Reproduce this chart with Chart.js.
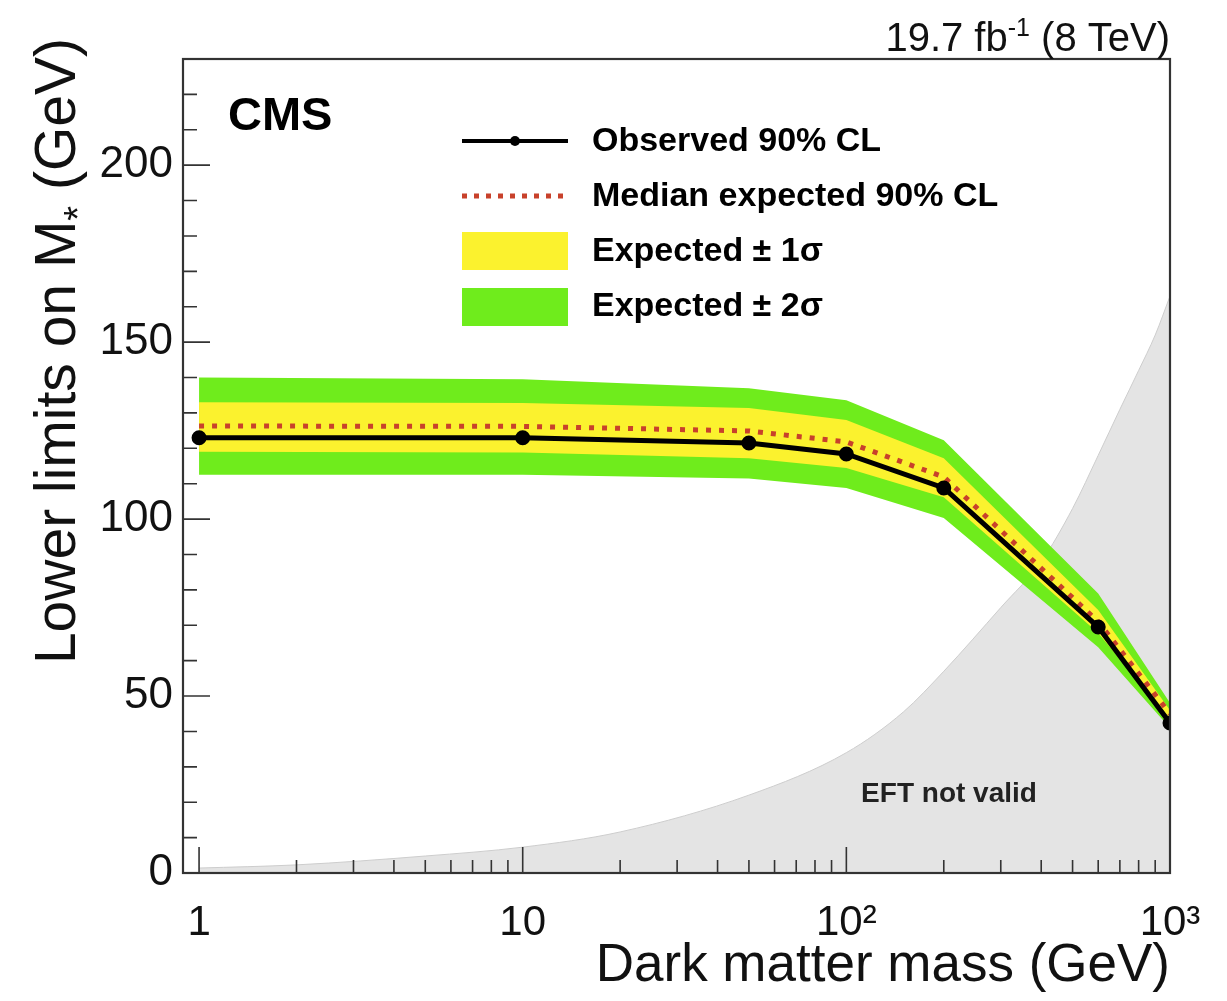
<!DOCTYPE html>
<html lang="en">
<head>
    <meta charset="UTF-8">
    <title>CMS lower limits on M*</title>
    <script src="https://cdn.jsdelivr.net/npm/chart.js"></script>
    <style>
        body { margin: 0; background: #fff; }
        #wrap { width: 1227px; height: 1001px; }
    </style>
</head>
<body>
    <div id="wrap"><canvas id="limitChart" width="1227" height="1001"></canvas></div>

    <script>
        // Dark matter mass points (GeV)
        const massPoints = [1, 10, 50, 100, 200, 600, 1000];
        // Limits on M* (GeV)
        const observed  = [123.0, 123.0, 121.5, 118.4, 108.8, 69.5, 42.4];
        const expected  = [126.3, 126.2, 124.9, 121.8, 111.9, 71.0, 45.0];
        const exp1Up    = [133.0, 132.8, 131.4, 128.0, 117.2, 74.3, 46.0];
        const exp1Down  = [119.0, 118.8, 117.2, 114.4, 106.2, 67.8, 43.5];
        const exp2Up    = [140.0, 139.5, 137.0, 133.6, 122.3, 79.0, 48.0];
        const exp2Down  = [112.5, 112.5, 111.5, 108.8, 100.3, 63.8, 41.0];

        // "EFT not valid" boundary
        const eftMass  = [1, 2, 5, 10, 20, 50, 100, 150, 200, 300, 400, 500, 600, 700, 800, 900, 1000];
        const eftLimit = [1.4, 2.3, 4.8, 7.3, 11.6, 22, 34, 45.5, 57, 75, 88, 103, 118, 131, 142, 152, 163];

        // axis ticks
        const xTickValues = [1, 10, 100, 1000];
        const xTickLabels = ['1', '10', '10\u00b2', '10\u00b3'];
        const yTickValues = [0, 50, 100, 150, 200];

        const pts = (xs, ys) => xs.map((v, i) => ({x: v, y: ys[i]}));

        const FONT = "'Liberation Sans', Arial, sans-serif";
        Chart.defaults.font.family = FONT;
        Chart.defaults.color = '#111';

        // frame, inward ticks, legend and text labels (ROOT style)
        const cmsDecor = {
            id: 'cmsDecor',
            afterDraw(chart) {
                const {ctx, chartArea: a, scales: {x, y}} = chart;
                ctx.save();

                ctx.strokeStyle = '#333';
                ctx.lineWidth = 1.6;
                ctx.beginPath();
                // x ticks
                [1, 10, 100].forEach(dec => {
                    for (let k = 1; k <= 9; k++) {
                        const px = x.getPixelForValue(k * dec);
                        const len = k === 1 ? 26 : 13;
                        ctx.moveTo(px, a.bottom); ctx.lineTo(px, a.bottom - len);
                    }
                });
                const p1000 = x.getPixelForValue(1000);
                ctx.moveTo(p1000, a.bottom); ctx.lineTo(p1000, a.bottom - 26);
                // y ticks
                for (let v = 0; v <= 230; v += 10) {
                    const py = y.getPixelForValue(v);
                    const len = v % 50 === 0 ? 27 : 14;
                    ctx.moveTo(a.left, py); ctx.lineTo(a.left + len, py);
                }
                ctx.stroke();

                // frame
                ctx.lineWidth = 2.2;
                ctx.strokeRect(a.left, a.top, a.right - a.left, a.bottom - a.top);

                // y axis title, with subscript star
                ctx.save();
                ctx.translate(75, 38);
                ctx.rotate(-Math.PI / 2);
                ctx.fillStyle = '#111';
                ctx.textBaseline = 'alphabetic';
                ctx.textAlign = 'left';
                const tBig = '57px ' + FONT, tSmall = '38px ' + FONT;
                ctx.font = tBig;
                const ya = ctx.measureText('Lower limits on M').width;
                const yc = ctx.measureText(' (GeV)').width;
                ctx.font = tSmall;
                const yb = ctx.measureText('*').width;
                const tx0 = -(ya + yb + yc);
                ctx.font = tBig;
                ctx.fillText('Lower limits on M', tx0, 0);
                ctx.font = tSmall;
                ctx.fillText('*', tx0 + ya, 16);
                ctx.font = tBig;
                ctx.fillText(' (GeV)', tx0 + ya + yb, 0);
                ctx.restore();

                // CMS label
                ctx.fillStyle = '#000';
                ctx.textBaseline = 'alphabetic';
                ctx.textAlign = 'left';
                ctx.font = 'bold 47px ' + FONT;
                ctx.fillText('CMS', 228, 130);

                // EFT not valid
                ctx.font = 'bold 28px ' + FONT;
                ctx.textAlign = 'center';
                ctx.fillStyle = '#222';
                ctx.fillText('EFT not valid', 949, 802);

                // luminosity label
                ctx.fillStyle = '#111';
                ctx.textAlign = 'left';
                const big = '40px ' + FONT;
                const small = '25px ' + FONT;
                ctx.font = big;
                const w1 = ctx.measureText('19.7 fb').width;
                const w3 = ctx.measureText(' (8 TeV)').width;
                ctx.font = small;
                const w2 = ctx.measureText('-1').width;
                const lx = a.right - w1 - w2 - w3;
                ctx.font = big;
                ctx.fillText('19.7 fb', lx, 51);
                ctx.font = small;
                ctx.fillText('-1', lx + w1, 36);
                ctx.font = big;
                ctx.fillText(' (8 TeV)', lx + w1 + w2, 51);

                // legend
                const sx0 = 462, sx1 = 568, tx = 592;
                ctx.font = 'bold 34px ' + FONT;
                ctx.textBaseline = 'middle';
                ctx.textAlign = 'left';
                // observed
                ctx.strokeStyle = '#000';
                ctx.lineWidth = 4;
                ctx.beginPath(); ctx.moveTo(sx0, 141); ctx.lineTo(sx1, 141); ctx.stroke();
                ctx.fillStyle = '#000';
                ctx.beginPath(); ctx.arc(515, 141, 5, 0, Math.PI * 2); ctx.fill();
                ctx.fillText('Observed 90% CL', tx, 142);
                // expected
                ctx.strokeStyle = '#c8412b';
                ctx.lineWidth = 5;
                ctx.setLineDash([5, 7]);
                ctx.beginPath(); ctx.moveTo(sx0, 196); ctx.lineTo(sx1, 196); ctx.stroke();
                ctx.setLineDash([]);
                ctx.fillText('Median expected 90% CL', tx, 197);
                // bands
                ctx.fillStyle = '#fbf22e';
                ctx.fillRect(sx0, 232, sx1 - sx0, 38);
                ctx.fillStyle = '#6fec1c';
                ctx.fillRect(sx0, 288, sx1 - sx0, 38);
                ctx.fillStyle = '#000';
                ctx.fillText('Expected \u00b1 1\u03c3', tx, 252);
                ctx.fillText('Expected \u00b1 2\u03c3', tx, 307);

                ctx.restore();
            }
        };

        const ctx = document.getElementById('limitChart').getContext('2d');

        const chart = new Chart(ctx, {
            type: 'line',
            data: {
                datasets: [
                    {
                        label: 'Observed 90% CL',
                        data: pts(massPoints, observed),
                        borderColor: '#000',
                        borderWidth: 5,
                        pointRadius: 5,
                        pointBackgroundColor: '#000',
                        pointBorderColor: '#000',
                        fill: false,
                        order: 1
                    },
                    {
                        label: 'Median expected 90% CL',
                        data: pts(massPoints, expected),
                        borderColor: '#c8412b',
                        borderWidth: 5,
                        borderDash: [5, 8],
                        pointRadius: 0,
                        fill: false,
                        order: 2
                    },
                    {
                        label: '1 sigma down',
                        data: pts(massPoints, exp1Down),
                        borderColor: 'transparent',
                        borderWidth: 0,
                        pointRadius: 0,
                        fill: false,
                        order: 3
                    },
                    {
                        label: 'Expected \u00b1 1\u03c3',
                        data: pts(massPoints, exp1Up),
                        borderColor: 'transparent',
                        borderWidth: 0,
                        pointRadius: 0,
                        backgroundColor: '#fbf22e',
                        fill: '-1',
                        order: 3
                    },
                    {
                        label: '2 sigma down',
                        data: pts(massPoints, exp2Down),
                        borderColor: 'transparent',
                        borderWidth: 0,
                        pointRadius: 0,
                        fill: false,
                        order: 5
                    },
                    {
                        label: 'Expected \u00b1 2\u03c3',
                        data: pts(massPoints, exp2Up),
                        borderColor: 'transparent',
                        borderWidth: 0,
                        pointRadius: 0,
                        backgroundColor: '#6fec1c',
                        fill: '-1',
                        order: 5
                    },
                    {
                        label: 'EFT not valid',
                        data: pts(eftMass, eftLimit),
                        borderColor: '#cdcdcd',
                        borderWidth: 1,
                        pointRadius: 0,
                        backgroundColor: '#e4e4e4',
                        cubicInterpolationMode: 'monotone',
                        fill: 'origin',
                        order: 7
                    }
                ]
            },
            options: {
                responsive: false,
                animation: false,
                layout: { padding: { top: 59, right: 57, left: 0, bottom: 0 } },
                plugins: {
                    legend: { display: false },
                    tooltip: { enabled: false }
                },
                scales: {
                    x: {
                        type: 'logarithmic',
                        min: 0.892,
                        max: 1000,
                        afterBuildTicks: s => { s.ticks = xTickValues.map(v => ({value: v})); },
                        afterFit: s => { s.height = 128; },
                        grid: { display: false, drawTicks: false },
                        border: { display: false },
                        ticks: {
                            padding: 25,
                            maxRotation: 0,
                            autoSkip: false,
                            font: { size: 42 },
                            color: '#111',
                            callback: (value, i) => xTickLabels[i]
                        },
                        title: {
                            display: true,
                            text: 'Dark matter mass (GeV)',
                            align: 'end',
                            font: { size: 53 },
                            color: '#111',
                            padding: { top: 0, bottom: 3 }
                        }
                    },
                    y: {
                        min: 0,
                        max: 230,
                        afterBuildTicks: s => { s.ticks = yTickValues.map(v => ({value: v})); },
                        afterFit: s => { s.width = 183; },
                        grid: { display: false, drawTicks: false },
                        border: { display: false },
                        ticks: {
                            padding: 10,
                            font: { size: 44 },
                            color: '#111'
                        },
                        title: { display: false }
                    }
                }
            },
            plugins: [cmsDecor]
        });
    </script>
</body>
</html>
